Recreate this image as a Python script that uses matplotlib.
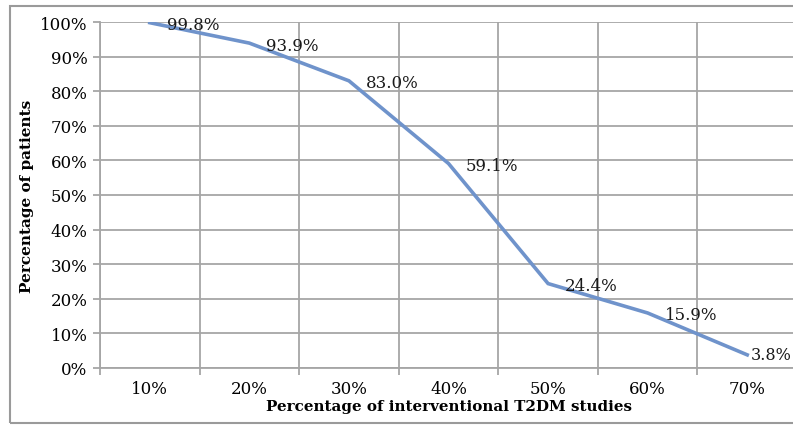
import matplotlib
matplotlib.use('Agg')
import matplotlib.pyplot as plt
from matplotlib.patches import Rectangle
from matplotlib.ticker import FixedLocator, PercentFormatter

# Data
categories = ['10%', '20%', '30%', '40%', '50%', '60%', '70%']
patients = [99.8, 93.9, 83.0, 59.1, 24.4, 15.9, 3.8]
point_labels = ['99.8%', '93.9%', '83.0%', '59.1%', '24.4%', '15.9%', '3.8%']
yticks = [0, 10, 20, 30, 40, 50, 60, 70, 80, 90, 100]

LINE_COLOR = '#6f93cb'
GRID_COLOR = '#a6a6a6'
FONT = 'DejaVu Serif'

fig = plt.figure(figsize=(7.93, 4.27), dpi=100)
ax = fig.add_axes([100 / 793, 1 - 369 / 427, 697 / 793, (369 - 23) / 427])

xs = list(range(len(categories)))
ax.plot(xs, patients, color=LINE_COLOR, lw=2.6, solid_joinstyle='miter', zorder=3)

# data labels to the right of each point; last one squeezed against the edge
for i, (x, y) in enumerate(zip(xs, patients)):
    if i == len(xs) - 1:
        ax.annotate(point_labels[i], (x, y), xytext=(0.998, y), textcoords=('figure fraction', 'data'),
                    ha='right', va='center', fontsize=11.5, family=FONT, color='#1a1a1a', zorder=4)
    else:
        ax.annotate(point_labels[i], (x, y), xytext=(17, -2), textcoords='offset pixels',
                    ha='left', va='center', fontsize=12, family=FONT, color='#1a1a1a', zorder=4)

ax.set_xlim(-0.5, len(categories) - 0.5)
ax.set_ylim(0, 100)

# boundaries get grid + tick marks, centres carry the labels
ax.xaxis.set_major_locator(FixedLocator([i - 0.5 for i in range(len(categories) + 1)]))
ax.xaxis.set_minor_locator(FixedLocator(xs))
ax.set_xticklabels([], minor=False)
ax.set_xticklabels(categories, minor=True, family=FONT, fontsize=12)
ax.tick_params(axis='x', which='major', length=5, width=1.3, color=GRID_COLOR, direction='out')
ax.tick_params(axis='x', which='minor', length=0, pad=9)

ax.set_yticks(yticks)
ax.yaxis.set_major_formatter(PercentFormatter(decimals=0))
ax.tick_params(axis='y', length=5, width=1.3, color=GRID_COLOR, pad=4)
for lab in ax.get_yticklabels():
    lab.set_family(FONT)
    lab.set_fontsize(12)

ax.grid(True, which='major', color=GRID_COLOR, lw=1.3)
ax.set_axisbelow(True)
for side in ['top', 'right']:
    ax.spines[side].set_visible(False)
for side in ['left', 'bottom']:
    ax.spines[side].set_color(GRID_COLOR)
    ax.spines[side].set_linewidth(1.3)

ax.set_xlabel('Percentage of interventional T2DM studies', family=FONT, fontsize=10.9,
              fontweight='bold', labelpad=1)
ax.set_ylabel('Percentage of patients', family=FONT, fontsize=11, fontweight='bold', labelpad=4)

# outer frame of the chart area
fig.patches.append(Rectangle((10 / 793, 3 / 427), 1.0, 1 - 10 / 427, transform=fig.transFigure,
                             fill=False, edgecolor='#9a9a9a', lw=1.5))

fig.savefig('out.png', dpi=100)
